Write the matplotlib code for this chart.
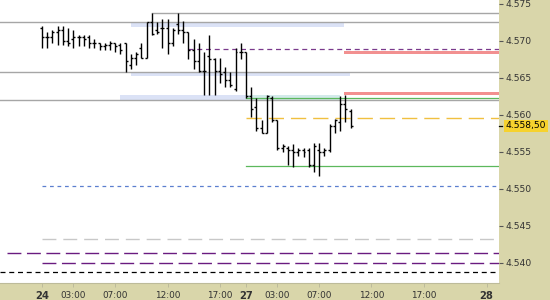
import matplotlib
matplotlib.use('Agg')
import matplotlib.pyplot as plt
from matplotlib.ticker import FixedLocator, FuncFormatter
import matplotlib.transforms as mtransforms

# ---------------- data (30-minute OHLC bars, index points) ----------------
opens = [4571.75, 4570.5, 4570.5, 4571.25, 4571.5, 4570.0, 4570.25, 4570.5, 4570.5, 4570.5,
         4569.75, 4569.75, 4569.25, 4569.5, 4569.75, 4569.5, 4569.75, 4566.75, 4567.75, 4569.0,
         4567.75, 4572.5, 4571.5, 4571.75, 4571.75, 4569.75, 4572.25, 4571.5, 4571.25, 4568.75,
         4567.25, 4566.0, 4568.0, 4567.5, 4566.0, 4565.75, 4564.75, 4563.5, 4568.5,
         4568.5, 4562.5, 4561.0, 4558.25, 4557.5, 4562.25, 4559.25, 4555.5, 4555.5, 4555.25,
         4555.0, 4555.25, 4555.25, 4553.25, 4555.25, 4555.0, 4555.25, 4558.5, 4559.0, 4561.5,
         4560.5]
highs = [4572.0, 4571.25, 4571.5, 4572.0, 4572.0, 4571.75, 4571.5, 4570.75, 4570.75, 4570.75,
         4570.25, 4569.75, 4569.75, 4570.0, 4569.75, 4569.75, 4569.75, 4568.25, 4568.5, 4569.75,
         4572.5, 4573.75, 4572.5, 4573.0, 4573.0, 4571.75, 4573.75, 4572.75, 4571.25, 4570.25,
         4569.75, 4568.5, 4570.75, 4567.75, 4567.75, 4566.5, 4565.75, 4569.0, 4569.75,
         4568.5, 4563.75, 4562.25, 4559.25, 4562.75, 4562.5, 4559.25, 4556.0, 4555.75, 4556.0,
         4555.5, 4555.5, 4555.5, 4556.25, 4556.25, 4555.5, 4558.75, 4559.5, 4562.5, 4562.75,
         4560.75]
lows = [4569.0, 4569.0, 4569.75, 4569.5, 4569.5, 4569.25, 4569.0, 4569.25, 4569.25, 4569.0,
        4569.0, 4568.75, 4568.75, 4568.75, 4568.5, 4568.25, 4565.75, 4566.25, 4566.75, 4567.75,
        4567.75, 4570.75, 4571.0, 4569.0, 4568.25, 4569.25, 4571.0, 4569.75, 4567.5, 4566.25,
        4565.75, 4562.75, 4562.75, 4562.75, 4564.25, 4563.75, 4563.75, 4563.25, 4567.5,
        4562.25, 4559.75, 4557.75, 4557.5, 4557.5, 4559.0, 4555.25, 4555.0, 4553.25, 4553.0,
        4554.5, 4554.25, 4553.0, 4552.25, 4551.75, 4554.5, 4555.0, 4557.5, 4557.75, 4559.0,
        4558.25]
closes = [4570.5, 4570.5, 4571.25, 4571.5, 4570.0, 4569.75, 4570.5, 4570.5, 4570.25, 4569.75,
          4569.75, 4569.25, 4569.5, 4569.75, 4569.25, 4568.75, 4567.25, 4567.75, 4568.25, 4567.75,
          4572.5, 4571.0, 4571.25, 4571.75, 4569.75, 4571.5, 4571.5, 4571.25, 4568.75, 4567.25,
          4566.0, 4566.0, 4567.5, 4566.0, 4565.5, 4564.75, 4564.0, 4568.5, 4568.5,
          4562.5, 4560.75, 4558.25, 4557.5, 4562.5, 4559.25, 4555.5, 4555.75, 4555.25, 4555.0,
          4555.25, 4555.0, 4553.25, 4555.75, 4555.0, 4555.25, 4558.5, 4559.25, 4561.5, 4560.75,
          4558.5]
bar_index = list(range(len(opens)))

# x axis labels (bar index of each label)
tick_index = [0, 6, 14, 24, 34, 39, 45, 53, 63, 73, 85]
tick_labels = ['24', '03:00', '07:00', '12:00', '17:00', '27', '03:00', '07:00', '12:00', '17:00', '28']
day_labels = ['24', '27', '28']
y_ticks = [4540, 4545, 4550, 4555, 4560, 4565, 4570, 4575]

# horizontal levels
gray_levels = [4573.75, 4572.5, 4565.75, 4562.0]
gray_starts = [21, None, None, None]
blue_zones = [(4571.9, 4572.4), (4565.25, 4565.8), (4562.0, 4562.7)]
blue_zone_span = [(17, 57.7), (17, 58.9), (15, 57)]
red_zones = [(4568.2, 4568.7), (4562.7, 4563.15)]
red_start = 57.7
green_levels = [4562.25, 4553.05]
green_start = 39
purple_short_level = 4568.9
purple_short_start = 28
orange_level = 4559.6
orange_start = 39
blue_dash_level = 4550.4
lgray_long_level = 4543.25
purple_long_levels = [4541.25, 4539.95]
purple_long_starts = [-6.7, 0]
black_dash_level = 4538.75
last_price = closes[-1]

# ---------------- figure ----------------
KHAKI = '#d9d6aa'
fig = plt.figure(figsize=(5.5, 3.0), dpi=100, facecolor=KHAKI)
W, H = 550.0, 300.0
ax = fig.add_axes([0, 17 / H, 498.5 / W, 283 / H])
ax.set_facecolor('white')
XL = (-42 / 5.23, (498.5 - 42) / 5.23)
ax.set_xlim(*XL)
ax.set_ylim(4537.25, 4575.54)

def start(s):
    return XL[0] if s is None else s

# zones
for (lo, hi), (x0, x1) in zip(blue_zones, blue_zone_span):
    ax.fill_between([x0, x1], [lo, lo], [hi, hi], color='#dbe2f6', lw=0, zorder=1)
ax.fill_between([39, 57], [4562.0] * 2, [4562.7] * 2, color='#d3eaea', lw=0, zorder=1.1)
for lo, hi in red_zones:
    ax.fill_between([red_start, XL[1]], [lo, lo], [hi, hi], color='#f29090', lw=0, zorder=1)

# lines
for lv, s in zip(gray_levels, gray_starts):
    ax.plot([start(s), XL[1]], [lv, lv], color='#a6a6a6', lw=1.0, zorder=2)
for lv in green_levels:
    ax.plot([green_start, XL[1]], [lv, lv], color='#5cb85c', lw=0.9, zorder=2)
ax.plot([purple_short_start, XL[1]], [purple_short_level] * 2, color='#7a3a8c', lw=0.9,
        dashes=(4, 3), zorder=2)
ax.plot([orange_start, XL[1]], [orange_level] * 2, color='#f0c040', lw=1.0,
        dashes=(11, 5), zorder=2)
ax.plot([0, XL[1]], [blue_dash_level] * 2, color='#5b7fcf', lw=0.9, dashes=(3, 3), zorder=2)
ax.plot([0, XL[1]], [lgray_long_level] * 2, color='#c8c8c8', lw=1.0, dashes=(10, 5), zorder=2)
for lv, s in zip(purple_long_levels, purple_long_starts):
    ax.plot([s, XL[1]], [lv, lv], color='#6a1b80', lw=1.0, dashes=(10, 4), zorder=2)
ax.plot([XL[0], XL[1]], [black_dash_level] * 2, color='black', lw=0.9, dashes=(4, 3), zorder=2)

# OHLC bars
tw = 0.38
ax.vlines(bar_index, lows, highs, color='black', lw=1.0, zorder=4)
ax.hlines(opens, [i - tw for i in bar_index], bar_index, color='black', lw=1.0, zorder=4)
ax.hlines(closes, bar_index, [i + tw for i in bar_index], color='black', lw=1.0, zorder=4)

# axes styling
for sp in ax.spines.values():
    sp.set_visible(False)
ax.spines['bottom'].set_visible(True)
ax.spines['bottom'].set_color('#bdbb9a')
ax.yaxis.tick_right()
ax.yaxis.set_major_locator(FixedLocator(y_ticks))
ax.yaxis.set_major_formatter(FuncFormatter(lambda v, p: f"{v:,.0f}".replace(',', '.')))
ax.tick_params(axis='y', length=3, width=0.8, color='#555555', pad=2,
               labelsize=6.6, labelcolor='#333333')
ax.xaxis.set_major_locator(FixedLocator(tick_index))
ax.set_xticklabels(tick_labels)
ax.tick_params(axis='x', length=3, width=0.6, color='#b8b69a', pad=2.5,
               labelsize=6.4, labelcolor='#333333')
for t in ax.get_xticklabels():
    if t.get_text() in day_labels:
        t.set_fontweight('bold')
        t.set_fontsize(7.2)

# last price box
tr = mtransforms.blended_transform_factory(ax.transAxes, ax.transData)
ax.plot([1.0, 1.008], [last_price, last_price], transform=tr, color='black', lw=0.9,
        clip_on=False, zorder=5)
lbl = f"{last_price:,.2f}".replace(',', 'X').replace('.', ',').replace('X', '.')
ax.text(1.014, last_price, lbl, transform=tr, ha='left', va='center', fontsize=6.6,
        color='black', clip_on=False, zorder=6,
        bbox=dict(boxstyle='square,pad=0.18', fc='#f6d22e', ec='none'))

fig.savefig('out.png', dpi=100, facecolor=KHAKI)
